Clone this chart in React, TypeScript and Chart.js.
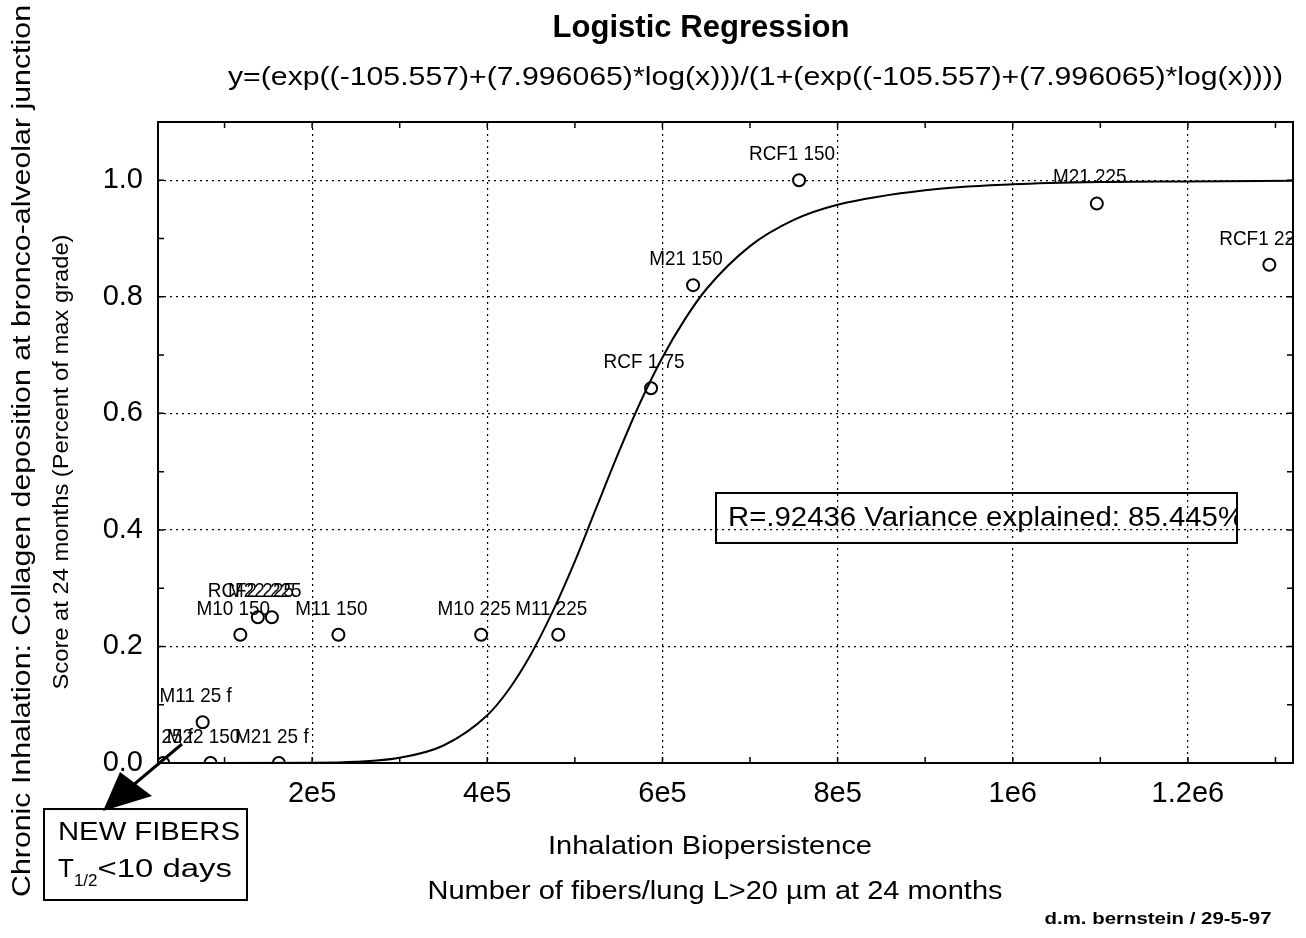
import React, { useEffect, useRef } from "react";
import { Chart, registerables } from "chart.js";

Chart.register(...registerables);

// ---------- texts ----------
const titleText = "Logistic Regression";
const equationText =
  "y=(exp((-105.557)+(7.996065)*log(x)))/(1+(exp((-105.557)+(7.996065)*log(x))))";
const statsText = "R=.92436 Variance explained: 85.445%";
const xTitle1 = "Inhalation Biopersistence";
const xTitle2 = "Number of fibers/lung L>20 µm at 24 months";
const yTitleOuter = "Chronic Inhalation: Collagen deposition at bronco-alveolar junction";
const yTitleInner = "Score at 24 months (Percent of max grade)";
const creditText = "d.m. bernstein / 29-5-97";
const noteLine1 = "NEW FIBERS";
const noteT = "T";
const noteSub = "1/2";
const noteRest = "<10 days";

// ---------- observed points ----------
const pointNames = [
  "M10 25 f",
  "M11 25 f",
  "M22 150",
  "M21 25 f",
  "M10 150",
  "RCF2 225",
  "M22 225",
  "M11 150",
  "M10 225",
  "M11 225",
  "RCF 1 75",
  "M21 150",
  "RCF1 150",
  "M21 225",
  "RCF1 225",
];
const pointX = [
  30000, 75000, 84000, 162000, 118000, 138000, 154000, 230000, 393000, 481000,
  587000, 635000, 756000, 1096000, 1293000,
];
const pointY = [
  0, 0.07, 0, 0, 0.22, 0.25, 0.25, 0.22, 0.22, 0.22, 0.643, 0.82, 1.0, 0.96, 0.855,
];

// ---------- fitted curve ----------
const curveX = [
  24000, 100000, 200000, 250000, 300000, 350000, 400000, 425000, 450000, 475000,
  500000, 525000, 550000, 575000, 600000, 625000, 650000, 700000, 750000, 800000,
  900000, 1000000, 1100000, 1200000, 1320000,
];
const curveY = [
  0, 0, 0.0003, 0.002, 0.009, 0.03, 0.082, 0.127, 0.187, 0.261, 0.346, 0.44,
  0.533, 0.62, 0.696, 0.76, 0.813, 0.887, 0.932, 0.958, 0.983, 0.993, 0.997,
  0.998, 0.999,
];

// ---------- axes ----------
const xMin = 24000;
const xMax = 1320000;
const yMin = 0;
const yMax = 1.1;
const xTickValues = [200000, 400000, 600000, 800000, 1000000, 1200000];
const xTickLabels = ["2e5", "4e5", "6e5", "8e5", "1e6", "1.2e6"];
const yTickValues = [0, 0.2, 0.4, 0.6, 0.8, 1.0];
const yTickLabels = ["0.0", "0.2", "0.4", "0.6", "0.8", "1.0"];
const minorXTicks = [
  100000, 200000, 300000, 400000, 500000, 600000, 700000, 800000, 900000,
  1000000, 1100000, 1200000, 1300000,
];
const minorYTicks = [0.1, 0.2, 0.3, 0.4, 0.5, 0.6, 0.7, 0.8, 0.9, 1.0];

const FONT = '"Liberation Sans", Arial, Helvetica, sans-serif';

function drawFit(
  ctx: CanvasRenderingContext2D,
  text: string,
  x: number,
  y: number,
  font: string,
  width: number | null,
  align: "left" | "center",
  baseline: CanvasTextBaseline = "middle",
  fixedScale: number = 1
) {
  ctx.save();
  ctx.font = font;
  ctx.textBaseline = baseline;
  ctx.textAlign = "left";
  const w = ctx.measureText(text).width;
  const sx = width ? width / w : fixedScale;
  const left = align === "center" ? x - (w * sx) / 2 : x;
  ctx.translate(left, y);
  ctx.scale(sx, 1);
  ctx.fillStyle = "#000";
  ctx.fillText(text, 0, 0);
  ctx.restore();
}

const decorPlugin = {
  id: "decor",
  beforeDraw(chart: any) {
    const ctx = chart.ctx as CanvasRenderingContext2D;
    ctx.save();
    ctx.fillStyle = "#fff";
    ctx.fillRect(0, 0, chart.width, chart.height);
    ctx.restore();
  },
  afterDatasetsDraw(chart: any) {
    const ctx = chart.ctx as CanvasRenderingContext2D;
    const area = chart.chartArea;
    const meta = chart.getDatasetMeta(1);
    ctx.save();
    ctx.beginPath();
    ctx.rect(area.left, area.top, area.right - area.left, area.bottom - area.top);
    ctx.clip();
    meta.data.forEach((el: any, i: number) => {
      drawFit(ctx, pointNames[i], el.x - 7, el.y - 26, `21px ${FONT}`, null, "center", "middle", 0.9);
    });
    ctx.restore();
  },
  afterDraw(chart: any) {
    const ctx = chart.ctx as CanvasRenderingContext2D;
    const area = chart.chartArea;
    const xs = chart.scales.x;
    const ys = chart.scales.y;

    // frame
    ctx.save();
    ctx.strokeStyle = "#000";
    ctx.lineWidth = 2;
    ctx.strokeRect(area.left, area.top, area.right - area.left, area.bottom - area.top);

    // minor ticks, inward
    ctx.lineWidth = 1.5;
    ctx.beginPath();
    minorXTicks.forEach((v) => {
      const px = xs.getPixelForValue(v);
      if (px <= area.left || px >= area.right) return;
      ctx.moveTo(px, area.top);
      ctx.lineTo(px, area.top + 6);
      ctx.moveTo(px, area.bottom);
      ctx.lineTo(px, area.bottom - 6);
    });
    minorYTicks.forEach((v) => {
      const py = ys.getPixelForValue(v);
      ctx.moveTo(area.left, py);
      ctx.lineTo(area.left + 6, py);
      ctx.moveTo(area.right, py);
      ctx.lineTo(area.right - 6, py);
    });
    ctx.stroke();
    ctx.restore();

    // titles
    drawFit(ctx, titleText, 701, 37, `bold 32px ${FONT}`, 297, "center", "alphabetic");
    drawFit(ctx, equationText, 228, 85, `26px ${FONT}`, 1055, "left", "alphabetic");

    // axis titles
    drawFit(ctx, xTitle1, 710, 847, `25px ${FONT}`, 324, "center");
    drawFit(ctx, xTitle2, 715, 892, `25px ${FONT}`, 575, "center");

    ctx.save();
    ctx.translate(23, 451);
    ctx.rotate(-Math.PI / 2);
    drawFit(ctx, yTitleOuter, 0, 0, `26px ${FONT}`, 892, "center");
    ctx.restore();

    ctx.save();
    ctx.translate(62, 462);
    ctx.rotate(-Math.PI / 2);
    drawFit(ctx, yTitleInner, 0, 0, `22px ${FONT}`, 455, "center");
    ctx.restore();

    // stats box
    ctx.save();
    ctx.strokeStyle = "#000";
    ctx.lineWidth = 2;
    ctx.strokeRect(716, 493, 521, 50);
    ctx.beginPath();
    ctx.rect(717, 494, 519, 48);
    ctx.clip();
    drawFit(ctx, statsText, 728, 518, `28px ${FONT}`, 516, "left");
    ctx.restore();

    // note box with arrow
    ctx.save();
    ctx.strokeStyle = "#000";
    ctx.fillStyle = "#000";
    ctx.lineWidth = 3;
    ctx.beginPath();
    ctx.moveTo(182, 744);
    ctx.lineTo(125, 792);
    ctx.stroke();
    ctx.beginPath();
    ctx.moveTo(103, 811);
    ctx.lineTo(120, 772);
    ctx.lineTo(152, 796);
    ctx.closePath();
    ctx.fill();
    ctx.lineWidth = 2;
    ctx.strokeRect(44, 809, 203, 91);
    ctx.restore();
    drawFit(ctx, noteLine1, 58, 833, `26px ${FONT}`, 182, "left");
    ctx.save();
    ctx.font = `26px ${FONT}`;
    const wT = ctx.measureText(noteT).width;
    ctx.font = `17px ${FONT}`;
    const wS = ctx.measureText(noteSub).width;
    ctx.restore();
    drawFit(ctx, noteT, 58, 877, `26px ${FONT}`, null, "left", "alphabetic");
    drawFit(ctx, noteSub, 58 + wT, 886, `17px ${FONT}`, null, "left", "alphabetic");
    drawFit(ctx, noteRest, 58 + wT + wS, 877, `26px ${FONT}`, 232 - (58 + wT + wS), "left", "alphabetic");

    // credit
    drawFit(ctx, creditText, 1158, 919, `bold 17px ${FONT}`, 227, "center");
  },
};

export default function App() {
  const canvasRef = useRef<HTMLCanvasElement | null>(null);

  useEffect(() => {
    const canvas = canvasRef.current;
    if (!canvas) return;
    const chart = new Chart(canvas, {
      type: "scatter",
      data: {
        datasets: [
          {
            type: "line",
            label: "fit",
            data: curveX.map((x, i) => ({ x, y: curveY[i] })),
            borderColor: "#000",
            borderWidth: 2,
            pointRadius: 0,
            fill: false,
            cubicInterpolationMode: "monotone",
            clip: 0,
          } as any,
          {
            type: "scatter",
            label: "observed",
            data: pointX.map((x, i) => ({ x, y: pointY[i] })),
            pointStyle: "circle",
            pointRadius: 6,
            pointBorderWidth: 2,
            borderColor: "#000",
            backgroundColor: "#fff",
            pointBackgroundColor: "#fff",
            pointBorderColor: "#000",
            clip: 0,
          } as any,
        ],
      },
      options: {
        responsive: false,
        animation: false,
        devicePixelRatio: 1,
        layout: { padding: { left: 0, top: 122, right: 13, bottom: 0 } },
        plugins: {
          legend: { display: false },
          tooltip: { enabled: false },
          title: { display: false },
        },
        scales: {
          x: {
            type: "linear",
            min: xMin,
            max: xMax,
            afterBuildTicks: (scale: any) => {
              scale.ticks = xTickValues.map((v) => ({ value: v }));
            },
            afterFit: (scale: any) => {
              scale.height = 175;
            },
            ticks: {
              callback: (_v: any, i: number) => xTickLabels[i],
              color: "#000",
              font: { family: FONT, size: 29 },
              padding: 14,
              maxRotation: 0,
              autoSkip: false,
            },
            grid: { color: "#000", lineWidth: 1.2, drawTicks: false },
            border: { display: false, dash: [2, 4] },
          },
          y: {
            type: "linear",
            min: yMin,
            max: yMax,
            afterBuildTicks: (scale: any) => {
              scale.ticks = yTickValues.map((v) => ({ value: v }));
            },
            afterFit: (scale: any) => {
              scale.width = 158;
            },
            ticks: {
              callback: (_v: any, i: number) => yTickLabels[i],
              color: "#000",
              font: { family: FONT, size: 29 },
              padding: 15,
              autoSkip: false,
            },
            grid: { color: "#000", lineWidth: 1.2, drawTicks: false },
            border: { display: false, dash: [2, 4] },
          },
        },
      },
      plugins: [decorPlugin],
    });
    return () => chart.destroy();
  }, []);

  return (
    <div style={{ position: "fixed", left: 0, top: 0, width: 1306, height: 938, background: "#fff" }}>
      <canvas ref={canvasRef} width={1306} height={938} style={{ width: 1306, height: 938 }} />
    </div>
  );
}
